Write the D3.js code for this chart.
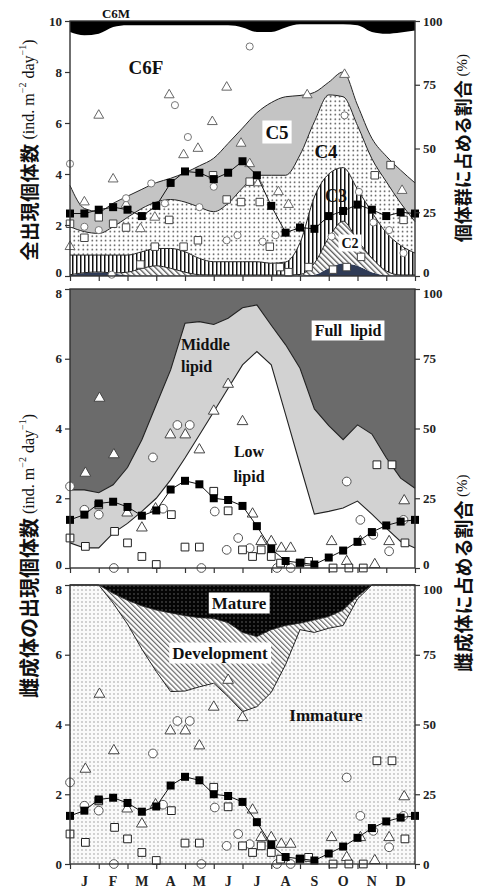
<!DOCTYPE html>
<html><head><meta charset="utf-8">
<script src="https://cdn.jsdelivr.net/npm/d3@7"></script>
<style>body{margin:0;background:#fff}</style>
</head><body>
<svg id="c" width="483" height="891"></svg>
<script>
// ---------- DATA ----------
const months = ["J","F","M","A","M","J","J","A","S","O","N","D"];
const samples = d3.range(25); // half-month sampling index (0 = 1 Jan, 24 = 31 Dec)

// Top panel: cumulative stage composition (%), bottom-up
const cumC1  = [0.3,1.2,1.5,1.0,0.3,0.2,0.2,0.2,0.2,0.2,0.2,0.2,0.2,0.2,0.2,0.2,0.2,0.5,3,5,4,1.5,0.3,0.2,0.2];
const cumC2  = [0.5,1.3,1.6,1.2,1.5,3,4,3,1.5,0.5,0.4,0.4,0.4,0.4,0.4,0.4,0.6,5,15,21.5,14,7,2,0.4,0.4];
const cumC3  = [8.2,8.2,8.2,8.2,8.2,9.5,10.8,10.8,9.5,6.9,5.6,5.6,5.6,5.6,5,5.5,13,31,40,42.5,34,25,17,12,9];
const cumC4  = [19.3,17.4,16.7,19.3,23,26.5,29,30,29,27,25.2,28.5,34.5,39.5,39.5,39.5,47.5,60.5,71,70.3,59,46,37,28.6,21.3];
const cumC5  = [35.5,26.5,25.3,28.5,31.3,34,36.6,38.3,40.5,43.2,46.2,52,58,64,68,70.3,70.8,72,76,80,67,54,47,41.5,36.5];
const cumC6F = [95.7,94.4,95,97.6,98.3,98.3,98.3,98.3,98.3,98.3,98.3,98.3,97.5,95.7,95.7,97.5,98.7,98.7,98.7,98.7,98.3,95.7,95,95.5,96.3];

// Top panel: total flux (ind. m-2 day-1)
const totalMean = [2.45,2.45,2.6,2.7,2.6,2.35,2.75,3.65,4.1,4.05,3.8,4.05,4.5,3.95,2.75,1.7,1.9,1.85,2.35,2.55,2.8,2.6,2.35,2.5,2.45];
const totalTri = [[0,1.15],[1,2.9],[2,6.3],[3,3.8],[3.9,2.8],[4.9,1.85],[5.9,2.3],[6.9,7.1],[7.9,4.75],[8.9,5.0],[9.9,6.05],[10.9,7.4],[11.9,5.2],[12.5,4.4],[13.1,3.65],[14.5,3.3],[15.2,2.8],[16,1.93],[16.5,7.1],[19.1,7.9],[23.1,3.35]];
const totalCir = [[0,4.4],[1,1.93],[2,1.8],[2.9,0.05],[3.9,3.05],[5.65,3.63],[6.6,2.85],[7.3,6.7],[8.2,5.45],[9,2.7],[10,3.5],[10.9,1.4],[11.65,1.6],[12.5,9.0],[13.4,1.35],[14.3,1.6],[18.2,1.55],[19.1,6.3],[20.1,3.3],[21.1,2.1],[22.2,1.8],[23.2,0.9]];
const totalSq = [[0,2.05],[1,1.5],[2,2.3],[3,2.05],[3.9,1.9],[4.9,0.45],[5.9,1.15],[6.9,2.2],[7.9,1.15],[8.9,1.4],[9.95,3.95],[10.9,3.0],[11.9,2.9],[12.5,3.7],[13.2,2.9],[13.9,1.15],[14.6,0.35],[15.2,0.15],[16.6,0.35],[18.3,0.25],[19.25,0.35],[20.25,0.75],[21.2,3.95],[22.3,4.35],[23.2,2.2]];

// Middle panel: lipid composition of females (%)
const lipidLowTop = [9,7.2,7.2,12.5,16,20.3,25,31.6,39.4,47.7,56,64.4,72.8,77.6,72.8,55,37,19.3,20.3,21.5,24,19.3,14.3,9.5,7.2];
const lipidMidTop = [28,28,27,29.8,36,46,58.5,71,87.7,88.3,87.3,89.5,93.3,94.3,87,80,71.6,57,51,46,51.3,48,39.5,32.2,28.6];

// Bottom panel: maturity composition of females (%)
const immatureTop = [100,100,100,93.5,86,77,69,61.8,62,63.5,64.8,60,54.6,56.4,61.5,71.5,84,83,84.5,85.5,95,100,100,100,100];
const developTop  = [100,100,100,97,94.5,92.5,91,90,89,88.3,88,86.5,83,81.5,84,85.5,86.3,87.5,88.7,91,96,100,100,100,100];

// Female flux (ind. m-2 day-1), shared by middle and bottom panels
const femaleMean = [1.38,1.53,1.85,1.9,1.75,1.5,1.65,2.25,2.5,2.4,2.0,1.95,1.78,1.2,0.55,0.2,0.15,0.1,0.3,0.5,0.75,1.03,1.22,1.33,1.38];
const femaleTri = [[1.07,2.72],[2.05,4.87],[3.05,3.25],[3.98,1.58],[5,1.15],[5.95,1.7],[6.98,3.82],[8.02,3.82],[9,3.39],[10,4.5],[11,5.27],[12,4.2],[12.7,1.55],[13.3,0.76],[14,0.76],[14.7,0.57],[15.35,0.57],[18.2,0.76],[19.25,0.19],[20.2,0.76],[21.2,0.1],[22.2,0.76],[23.25,1.93]];
const femaleCir = [[0,2.34],[1,1.67],[2,1.53],[3.05,0],[5.77,3.17],[6.47,1.7],[7.47,4.1],[8.33,4.1],[9.14,0],[10.07,1.62],[10.9,0.52],[11.7,0.86],[12.5,0.57],[14.4,0],[15.35,0],[19.25,2.48],[20.2,1.38],[21.1,0.95],[22.2,0.48],[23.2,1.38]];
const femaleSq = [[0,0.86],[1.07,0.62],[2,1.81],[3.1,1.05],[4,0.72],[5,0.33],[6,0.1],[7.05,1.53],[8,0.6],[9,0.6],[10,2.2],[11,1.64],[12,0.52],[12.7,0.33],[13.3,0.52],[14,0.33],[14.65,0.14],[16,0.14],[16.6,0.19],[18.3,0],[19.4,0],[20.4,0],[21.35,2.96],[22.4,2.96],[23.3,0.72]];

const topTicksL = [0,2,4,6,8,10];
const lowTicksL = [0,2,4,6,8];
const ticksR = [0,25,50,75,100];

// ---------- DRAW ----------
const svg = d3.select("#c");
const serif = "'Liberation Serif','Times New Roman',serif";
const cjk = "'Noto Sans CJK JP','Noto Sans CJK SC',sans-serif";
const defs = svg.append("defs");

function pat(id, w, h, fn, transform){
  const p = defs.append("pattern").attr("id", id).attr("patternUnits","userSpaceOnUse")
    .attr("width", w).attr("height", h);
  if (transform) p.attr("patternTransform", transform);
  fn(p);
}
pat("dotsC4", 4.5, 4.5, p => {
  p.append("rect").attr("width",4.5).attr("height",4.5).attr("fill","#fff");
  p.append("circle").attr("cx",2.2).attr("cy",2.2).attr("r",0.75).attr("fill","#222");
});
pat("stripesV", 4, 4, p => {
  p.append("rect").attr("width",4).attr("height",4).attr("fill","#fff");
  p.append("rect").attr("x",0).attr("width",1.5).attr("height",4).attr("fill","#111");
});
pat("hatchC2", 4, 4, p => {
  p.append("rect").attr("width",4).attr("height",4).attr("fill","#fff");
  p.append("rect").attr("x",0).attr("width",1.3).attr("height",4).attr("fill","#555");
}, "rotate(-45)");
pat("hatchDev", 3.6, 3.6, p => {
  p.append("rect").attr("width",3.6).attr("height",3.6).attr("fill","#fff");
  p.append("rect").attr("x",0).attr("width",1.2).attr("height",3.6).attr("fill","#666");
}, "rotate(-45)");
pat("dotsImm", 4, 4, p => {
  p.append("rect").attr("width",4).attr("height",4).attr("fill","#fafafa");
  p.append("circle").attr("cx",2).attr("cy",2).attr("r",0.7).attr("fill","#8a8a8a");
});
pat("dotsMat", 4, 4, p => {
  p.append("rect").attr("width",4).attr("height",4).attr("fill","#050505");
  p.append("circle").attr("cx",2).attr("cy",2).attr("r",0.7).attr("fill","#777");
});

const x = d3.scaleLinear().domain([0,24]).range([70,415]);

function panel(y0, y1, maxL, ticksL){
  const yL = d3.scaleLinear().domain([0,maxL]).range([y1,y0]);
  const yR = d3.scaleLinear().domain([0,100]).range([y1,y0]);
  return {yL, yR, y0, y1, ticksL, maxL};
}
const P1 = panel(21, 276, 10, topTicksL);
const P2 = panel(289, 568, 8, lowTicksL);
const P3 = panel(585, 864, 8, lowTicksL);

function band(P, lower, upper, fill, curve){
  const a = d3.area().x((d,i)=>x(i)).y0((d,i)=>P.yR(lower[i])).y1((d,i)=>P.yR(upper[i])).curve(curve);
  svg.append("path").datum(samples).attr("d", a).attr("fill", fill).attr("stroke","none");
}
function bline(P, arr, curve, w){
  const l = d3.line().x((d,i)=>x(i)).y(d=>P.yR(d)).curve(curve);
  svg.append("path").datum(arr).attr("d", l).attr("fill","none").attr("stroke","#222").attr("stroke-width", w||1);
}
const zero = samples.map(()=>0), full = samples.map(()=>100);

// ---- top panel bands
const cv = d3.curveMonotoneX;
band(P1, zero, cumC1, "#2f3b56", cv);
band(P1, cumC1, cumC2, "url(#hatchC2)", cv);
band(P1, cumC2, cumC3, "url(#stripesV)", cv);
band(P1, cumC3, cumC4, "url(#dotsC4)", cv);
band(P1, cumC4, cumC5, "#c4c4c4", cv);
band(P1, cumC5, cumC6F, "#fff", cv);
band(P1, cumC6F, full, "#000", cv);
[cumC2, cumC3, cumC4, cumC5].forEach(a => bline(P1, a, cv, 1));

// ---- middle panel bands
const lin = d3.curveLinear;
band(P2, zero, lipidLowTop, "#fff", lin);
band(P2, lipidLowTop, lipidMidTop, "#d2d2d2", lin);
band(P2, lipidMidTop, full, "#6b6b6b", lin);
bline(P2, lipidLowTop, lin, 1.1);
bline(P2, lipidMidTop, lin, 1.1);

// ---- bottom panel bands
band(P3, zero, immatureTop, "url(#dotsImm)", lin);
band(P3, immatureTop, developTop, "url(#hatchDev)", lin);
band(P3, developTop, full, "url(#dotsMat)", lin);
bline(P3, immatureTop, lin, 1);
bline(P3, developTop, lin, 0.8);

// ---- labels inside panels
function boxLabel(txt, cx, cy, size, box, anchor){
  const g = svg.append("g");
  const t = g.append("text").attr("x",cx).attr("y",cy).attr("text-anchor",anchor||"middle")
    .attr("dominant-baseline","central").attr("font-family",serif).attr("font-weight","bold")
    .attr("font-size",size).attr("fill","#111").attr("xml:space","preserve").text(txt);
  if (box){
    const b = t.node().getBBox();
    g.insert("rect","text").attr("x",b.x-3).attr("y",b.y-1).attr("width",b.width+6).attr("height",b.height+2).attr("fill","#fff");
  }
}
boxLabel("C6M", 116, 13, 13, false);
boxLabel("C6F", 146, 67, 19, false);
boxLabel("C5", 277, 132, 19, true);
boxLabel("C4", 326, 151, 19, false);
boxLabel("C3", 336, 196, 18, false);
boxLabel("C2", 350, 243, 14, true);
boxLabel("Full  lipid", 348, 330, 16, true);
boxLabel("Middle", 181, 344, 16, false, "start");
boxLabel("lipid", 181, 366, 16, false, "start");
boxLabel("Low", 249, 451, 16, false);
boxLabel("lipid", 249, 476, 16, false);
boxLabel("Mature", 239, 603, 17, true);
boxLabel("Development", 220, 653, 17, true);
boxLabel("Immature", 326, 715, 17, false);

// ---- symbols
function pts(P, arr, type, size, stroke, sw){
  svg.append("g").selectAll("path").data(arr).join("path")
    .attr("transform", d => `translate(${x(d[0])},${P.yL(d[1])})`)
    .attr("d", d3.symbol().type(type).size(size)())
    .attr("fill","#fff").attr("stroke",stroke).attr("stroke-width",sw||1);
}
function meanSeries(P, arr){
  svg.append("path").datum(arr).attr("d", d3.line().x((d,i)=>x(i)).y(d=>P.yL(d)))
    .attr("fill","none").attr("stroke","#111").attr("stroke-width",1);
  svg.append("g").selectAll("rect").data(arr).join("rect")
    .attr("x",(d,i)=>x(i)-4).attr("y",d=>P.yL(d)-4).attr("width",8).attr("height",8)
    .attr("fill","#000");
}
pts(P1, totalTri, d3.symbolTriangle, 42, "#666", 1);
pts(P1, totalCir, d3.symbolCircle, 40, "#777", 1);
pts(P1, totalSq, d3.symbolSquare, 56, "#444", 1);
meanSeries(P1, totalMean);

[P2, P3].forEach(P => {
  pts(P, femaleTri, d3.symbolTriangle, 50, "#444", 1);
  pts(P, femaleCir, d3.symbolCircle, 60, "#555", 1);
  pts(P, femaleSq, d3.symbolSquare, 60, "#222", 1);
  meanSeries(P, femaleMean);
});

// ---- frames and axes
[P1, P2, P3].forEach((P, pi) => {
  svg.append("rect").attr("x",70).attr("y",P.y0).attr("width",345).attr("height",P.y1-P.y0)
    .attr("fill","none").attr("stroke","#333").attr("stroke-width",1.4);
  const gl = svg.append("g").attr("transform","translate(70,0)")
    .call(d3.axisLeft(P.yL).tickValues(P.ticksL).tickSize(5).tickFormat(d3.format("d")));
  const gr = svg.append("g").attr("transform","translate(415,0)")
    .call(d3.axisRight(P.yR).tickValues(ticksR).tickSize(5).tickFormat(d3.format("d")));
  const gb = svg.append("g").attr("transform",`translate(0,${P.y1})`)
    .call(d3.axisBottom(x).tickValues(d3.range(0,25,2)).tickSize(5).tickFormat(""));
  [gl,gr,gb].forEach(g => {
    g.select(".domain").remove();
    g.selectAll("line").attr("stroke","#333").attr("stroke-width",1.2);
    g.selectAll("text").attr("font-family",serif).attr("font-weight","bold").attr("font-size",13).attr("fill","#222");
  });
  // nudge stacked end labels between panels apart
  [gl, gr].forEach(g => {
    g.selectAll(".tick").filter(d => d === 0 && pi < 2).select("text").attr("dy","0.05em");
    g.selectAll(".tick").filter(d => (d === P.maxL || d === 100) && pi > 0).select("text").attr("dy","0.62em");
  });
});
// month labels
svg.append("g").selectAll("text").data(months).join("text")
  .attr("x",(d,i)=>x(2*i+1)).attr("y",881).attr("text-anchor","middle").attr("dominant-baseline","central")
  .attr("font-family",serif).attr("font-weight","bold").attr("font-size",14).attr("fill","#222").text(d=>d);

// ---- axis titles
function vTitle(cx, cy, jp, unit, jpSize, ls){
  const t = svg.append("text").attr("transform",`translate(${cx},${cy}) rotate(-90)`)
    .attr("text-anchor","middle").attr("dominant-baseline","central").attr("fill","#111");
  t.append("tspan").attr("font-family",cjk).attr("font-weight","bold").attr("font-size",jpSize)
    .attr("letter-spacing", ls||0).text(jp);
  unit(t);
}
function unitInd(t){
  const s = t.append("tspan").attr("font-family",serif).attr("font-size",16);
  s.append("tspan").text(" (ind. m");
  s.append("tspan").attr("font-size",10).attr("dy",-6).text("−2");
  s.append("tspan").attr("dy",6).text(" day");
  s.append("tspan").attr("font-size",10).attr("dy",-6).text("−1");
  s.append("tspan").attr("dy",6).text(")");
}
function unitPct(t){
  t.append("tspan").attr("font-family",serif).attr("font-size",15).text(" (%)");
}
vTitle(28, 150, "全出現個体数", unitInd, 19, 0.5);
vTitle(28, 556, "雌成体の出現個体数", unitInd, 20);
vTitle(462, 148, "個体群に占める割合", unitPct, 18);
vTitle(462, 573, "雌成体に占める割合", unitPct, 19);
</script>
</body></html>
